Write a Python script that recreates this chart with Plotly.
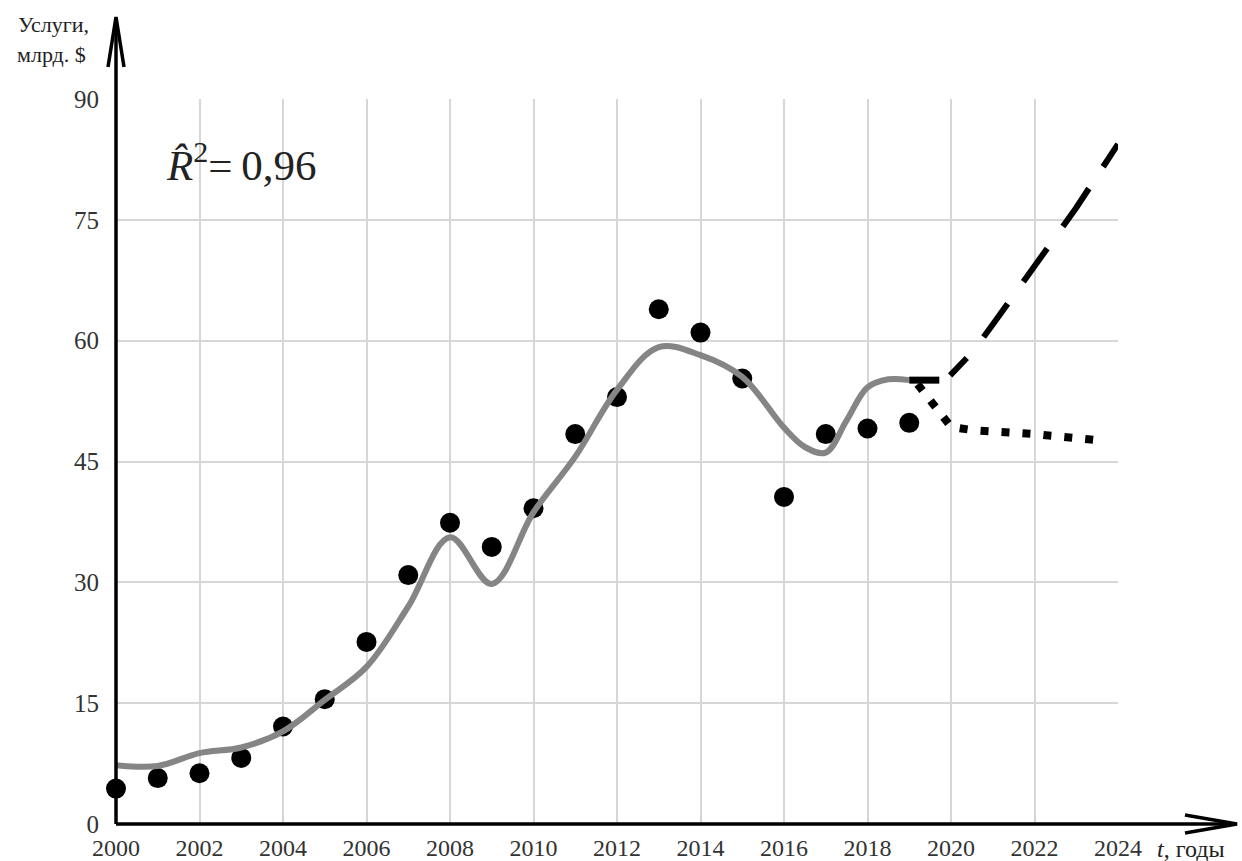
import plotly.graph_objects as go

# Observed services exports, bn $
years = list(range(2000, 2020))
services = [4.4, 5.7, 6.3, 8.2, 12.1, 15.5, 22.6, 30.9, 37.4, 34.4,
            39.2, 48.4, 53.0, 63.9, 61.0, 55.3, 40.6, 48.4, 49.1, 49.8]

# Fitted smooth trend
trend_years = [2000, 2001, 2002, 2003, 2004, 2005, 2006, 2007, 2008, 2009,
               2010, 2011, 2012, 2013, 2014, 2015, 2016, 2016.5, 2017,
               2017.5, 2018, 2018.5, 2019]
trend_vals = [7.3, 7.2, 8.8, 9.5, 11.5, 15.4, 19.5, 27.0, 35.6, 29.8,
              38.7, 45.6, 53.9, 59.2, 58.2, 55.5, 49.2, 46.8, 46.1,
              50.1, 54.2, 55.2, 55.1]

# Link between fitted trend and forecasts
bridge_years = [2019.0, 2019.72]
bridge_vals = [55.1, 55.1]

# Optimistic forecast
opt_years = [2019.98, 2020.5, 2021.0, 2022.0, 2023.0, 2024.0]
opt_vals = [55.7, 58.5, 62.0, 69.2, 76.5, 84.4]

# Pessimistic forecast
pes_years = [2019.2, 2020.0, 2020.5, 2021.0, 2022.0, 2023.0, 2023.6]
pes_vals = [54.6, 49.3, 48.9, 48.8, 48.4, 47.9, 47.6]

x_ticks = list(range(2000, 2025, 2))
y_ticks = [0, 15, 30, 45, 60, 75, 90]

FONT = "Liberation Serif"

fig = go.Figure()

fig.add_trace(go.Scatter(
    x=years, y=services, mode="markers",
    marker=dict(color="black", size=20),
    cliponaxis=False, showlegend=False))

fig.add_trace(go.Scatter(
    x=trend_years, y=trend_vals, mode="lines",
    line=dict(color="#858585", width=6, shape="spline", smoothing=1.0),
    showlegend=False))

fig.add_trace(go.Scatter(
    x=pes_years, y=pes_vals, mode="lines",
    line=dict(color="black", width=8, dash="8px,13px"),
    showlegend=False))

fig.add_trace(go.Scatter(
    x=opt_years, y=opt_vals, mode="lines",
    line=dict(color="black", width=6,
              dash="24px,27px,41px,27px,41px,27px,46px,26px,40px,27px"),
    showlegend=False))

fig.add_trace(go.Scatter(
    x=bridge_years, y=bridge_vals, mode="lines",
    line=dict(color="black", width=7),
    showlegend=False))

axis_common = dict(
    showline=False, zeroline=False, showgrid=True, automargin=False,
    gridcolor="#d6d6d6", gridwidth=1.5, ticks="",
)

fig.update_xaxes(range=[2000, 2024], tickvals=x_ticks, ticklabelstandoff=7,
                 tickfont=dict(family=FONT, size=24, color="#333333"),
                 **axis_common)
fig.update_yaxes(range=[0, 90], tickvals=y_ticks, ticklabelstandoff=16,
                 tickfont=dict(family=FONT, size=25, color="#333333"),
                 **axis_common)

# Axes with arrowheads (pixel offsets from the plot origin)
shapes = [
    dict(type="line", xref="paper", yref="paper", xsizemode="pixel",
         xanchor=0, x0=0, x1=1119, y0=0, y1=0,
         line=dict(color="black", width=3.5)),
    dict(type="line", xref="paper", yref="paper", ysizemode="pixel",
         yanchor=0, x0=0, x1=0, y0=0, y1=805,
         line=dict(color="black", width=3.5)),
    dict(type="path", xref="paper", yref="paper", xsizemode="pixel",
         ysizemode="pixel", xanchor=0, yanchor=0,
         path="M 1069,9 L 1121,0 L 1069,-9",
         line=dict(color="black", width=3.5)),
    dict(type="path", xref="paper", yref="paper", xsizemode="pixel",
         ysizemode="pixel", xanchor=0, yanchor=0,
         path="M -8,757 L 0,807 L 8,757",
         line=dict(color="black", width=3.5)),
]

def label(text, x, y, size, **kw):
    return dict(text=text, xref="paper", yref="paper", x=x, y=y,
                xanchor="center", yanchor="middle", showarrow=False,
                font=dict(family=FONT, size=size, color="#222222"), **kw)

annotations = [
    label("Услуги,", -0.062, 1.103, 22),
    label("млрд. $", -0.064, 1.061, 22),
    label("<i>t</i>, годы", 1.073, -0.034, 24),
    label("<i>R\u0302</i><sup>2</sup>=\u20090,96", 0.125, 0.913, 43),
]

fig.update_layout(
    width=1242, height=861, autosize=False,
    margin=dict(l=116, r=124, t=99, b=37),
    paper_bgcolor="white", plot_bgcolor="white",
    shapes=shapes, annotations=annotations,
    showlegend=False,
)

fig.write_html("out.html")
